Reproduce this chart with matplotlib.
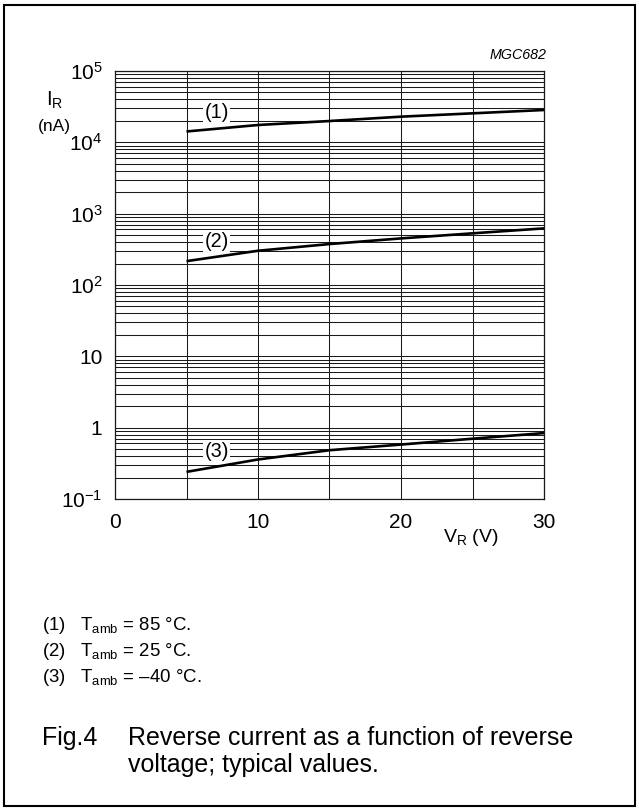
import matplotlib
matplotlib.use('Agg')
import matplotlib.pyplot as plt
from matplotlib.ticker import FixedLocator, LogLocator, NullFormatter
from matplotlib.patches import Rectangle

# data
vr = [5, 10, 15, 20, 25, 30]
ir_85 = [1.42e4, 1.75e4, 1.99e4, 2.29e4, 2.55e4, 2.84e4]
ir_25 = [216, 302, 375, 450, 530, 622]
ir_m40 = [0.24, 0.358, 0.483, 0.58, 0.70, 0.84]
curve_tags = ['(1)', '(2)', '(3)']
tag_pos = [(7.1, 2.58e4), (7.1, 413), (7.1, 0.468)]

x_major = [0, 10, 20, 30]
x_minor = [5, 15, 25]
y_major = [1e-1, 1, 10, 1e2, 1e3, 1e4, 1e5]
y_labels = ['10$^{-1}$', '1', '10', '10$^{2}$', '10$^{3}$', '10$^{4}$', '10$^{5}$']

legend_lines = ['(1)   T$_{\\mathrm{amb}}$ = 85 \u00b0C.',
                '(2)   T$_{\\mathrm{amb}}$ = 25 \u00b0C.',
                '(3)   T$_{\\mathrm{amb}}$ = \u201340 \u00b0C.']

plt.rcParams['font.family'] = ['Liberation Sans', 'DejaVu Sans']
plt.rcParams['mathtext.fontset'] = 'custom'
plt.rcParams['mathtext.rm'] = 'Liberation Sans'
plt.rcParams['mathtext.it'] = 'Liberation Sans:italic'

W, H = 639, 810
fig = plt.figure(figsize=(W / 100, H / 100), dpi=100)
ax = fig.add_axes([115 / W, 1 - 499 / H, (544 - 115) / W, (499 - 71) / H])

ax.set_yscale('log')
ax.set_xlim(0, 30)
ax.set_ylim(0.1, 1e5)
ax.xaxis.set_major_locator(FixedLocator(x_major))
ax.xaxis.set_minor_locator(FixedLocator(x_minor))
ax.set_xticklabels([str(v) for v in x_major])
ax.yaxis.set_major_locator(FixedLocator(y_major))
ax.set_yticklabels(y_labels)
ax.yaxis.set_minor_locator(LogLocator(base=10, subs=range(2, 10), numticks=20))
ax.yaxis.set_minor_formatter(NullFormatter())

ax.grid(which='both', color='#1a1a1a', lw=0.75)
ax.set_axisbelow(True)
ax.tick_params(which='both', length=0, labelsize=15)
ax.tick_params(axis='x', pad=10)
ax.tick_params(axis='y', pad=9)
for s in ax.spines.values():
    s.set_linewidth(0.9)
    s.set_color('#1a1a1a')

for ys in (ir_85, ir_25, ir_m40):
    ax.plot(vr, ys, color='black', lw=1.9, solid_capstyle='butt', zorder=3)

for tag, (tx, ty) in zip(curve_tags, tag_pos):
    ax.text(tx, ty, tag, ha='center', va='center', fontsize=14.3, zorder=4,
            bbox=dict(facecolor='white', edgecolor='none', pad=1.2))

# axis titles
fig.text(471 / W, 1 - 537 / H, 'V$_{\\mathrm{R}}$ (V)', ha='center', va='center', fontsize=14)
fig.text(46 / W, 1 - 100 / H, 'I$_{\\mathrm{R}}$', ha='left', va='center', fontsize=14.5)
fig.text(54 / W, 1 - 126 / H, '(nA)', ha='center', va='center', fontsize=12.5)
fig.text(546 / W, 1 - 55 / H, 'MGC682', ha='right', va='center', fontsize=10.3, style='italic')

for i, line in enumerate(legend_lines):
    fig.text(42 / W, 1 - (625 + 26.5 * i) / H, line, ha='left', va='center', fontsize=13.4)

fig.text(42 / W, 1 - 738 / H, 'Fig.4', ha='left', va='center', fontsize=18)
fig.text(128 / W, 1 - 738 / H, 'Reverse current as a function of reverse', ha='left', va='center', fontsize=18)
fig.text(128 / W, 1 - 765 / H, 'voltage; typical values.', ha='left', va='center', fontsize=18)

fig.patches.append(Rectangle((4 / W, 4 / H), 631 / W, 801 / H, transform=fig.transFigure,
                             fill=False, edgecolor='black', lw=1.5))

fig.savefig('out.png', dpi=100)
